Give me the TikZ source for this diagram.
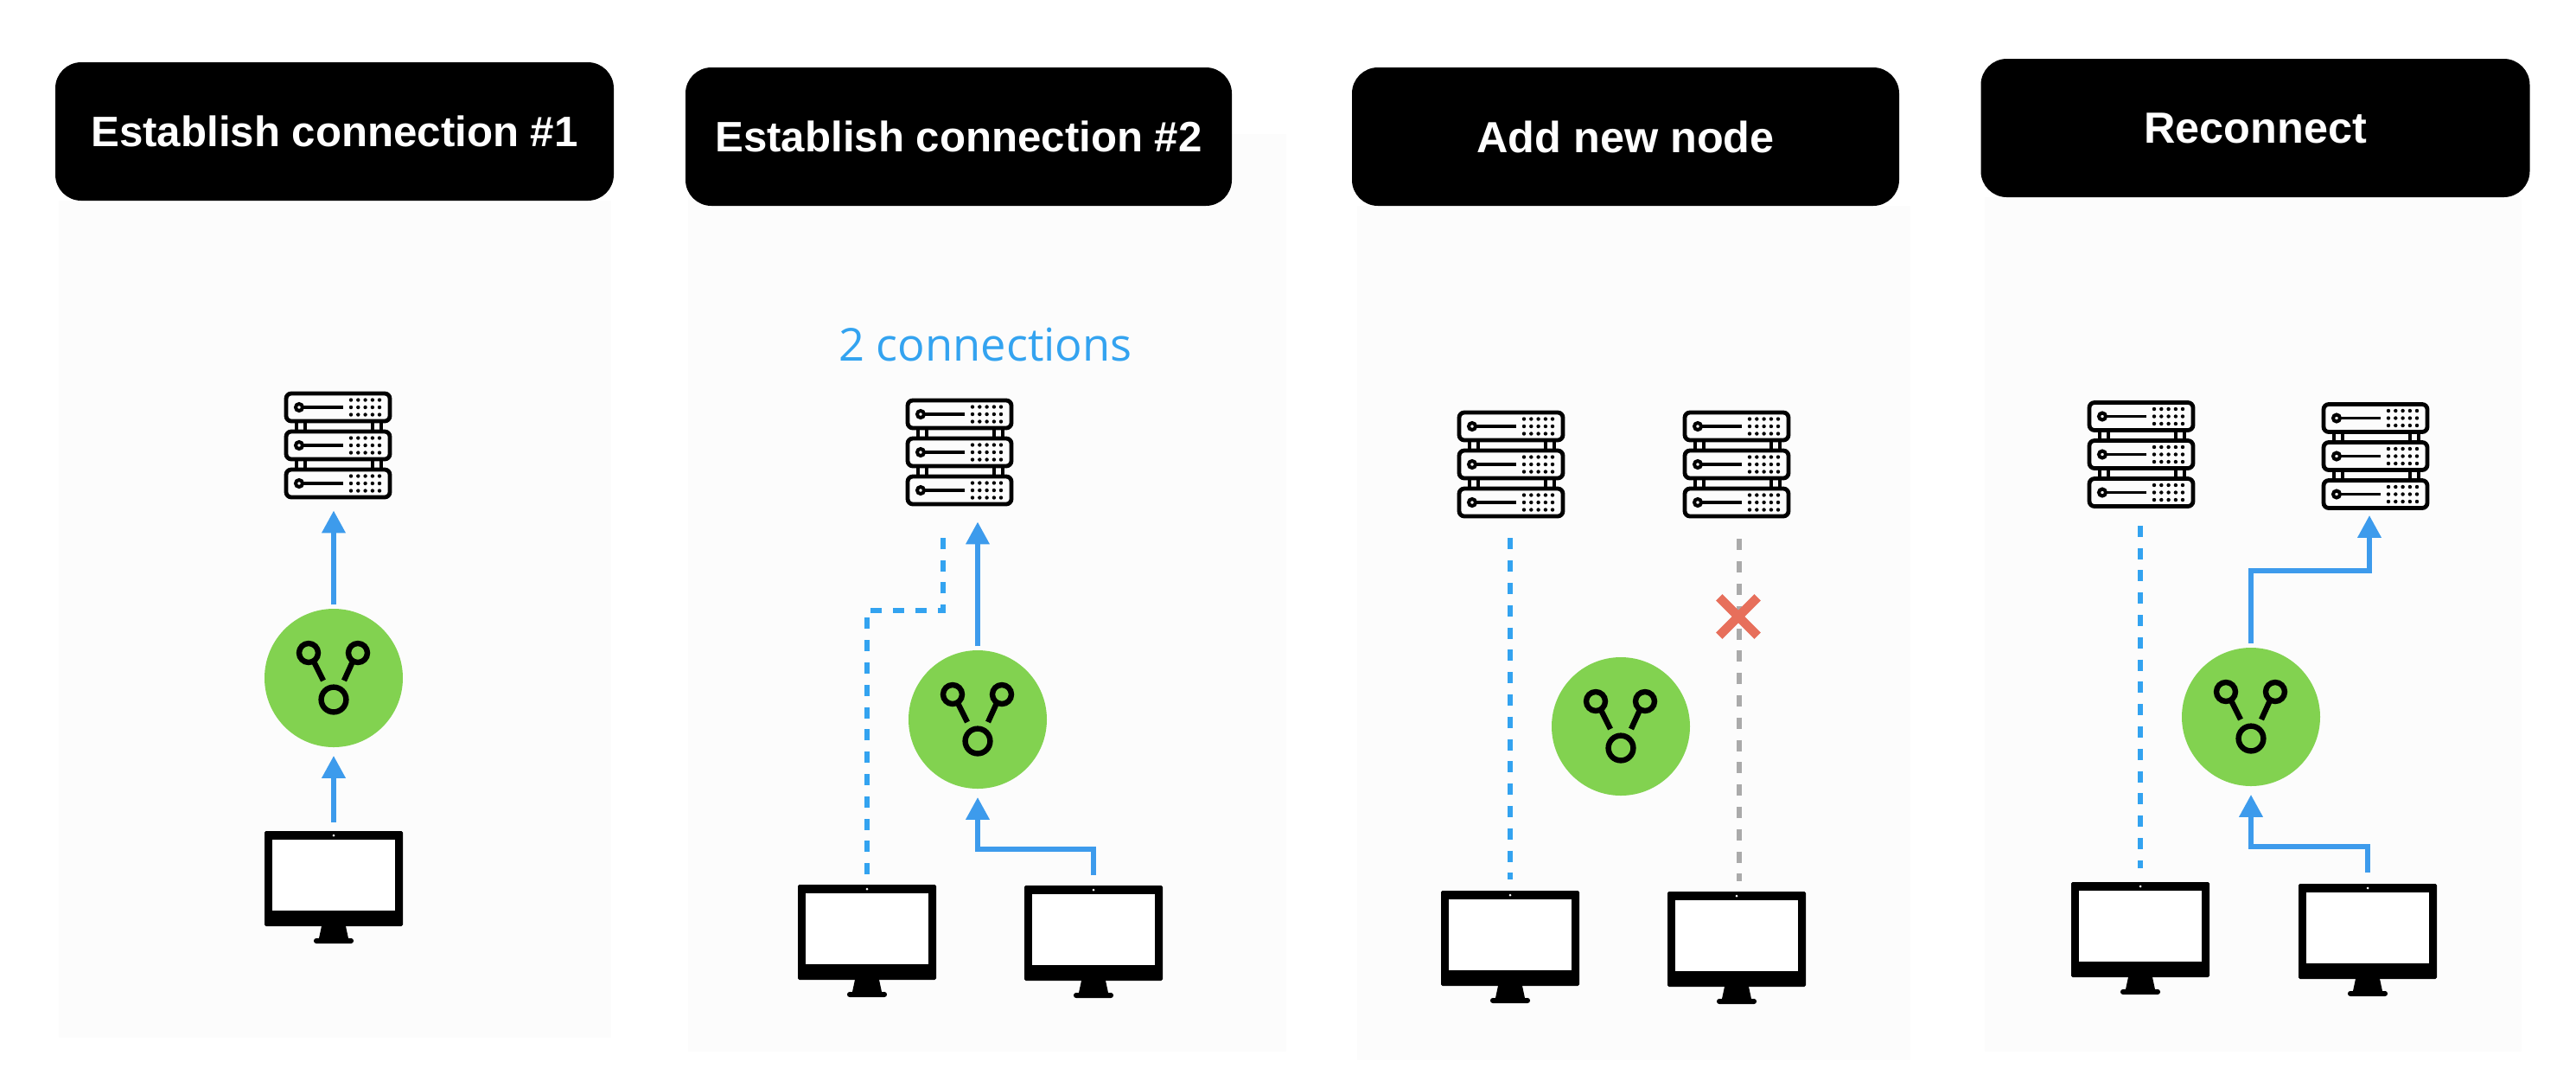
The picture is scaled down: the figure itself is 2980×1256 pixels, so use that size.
\documentclass[tikz,border=0pt]{standalone}
\usepackage{fontspec}
\usepackage{xcolor}
\setmainfont{Liberation Sans}
\newfontfamily\notefont{Open Sans}
\usetikzlibrary{arrows.meta,shapes.misc}
\definecolor{flowblue}{RGB}{61,155,236}
\definecolor{linkblue}{RGB}{51,163,240}
\definecolor{hubgreen}{RGB}{130,210,80}
\definecolor{cutgray}{RGB}{170,170,170}
\definecolor{cutred}{RGB}{231,111,91}
\definecolor{panelgray}{RGB}{252,252,252}

\tikzset{
    headbox/.style={rectangle, fill=black, text=white, font=\fontsize{12.6}{15}\selectfont\bfseries, minimum height=40pt, rounded corners=7.5pt, inner sep=0pt},
    longhead/.style={font=\fontsize{12.3}{15}\selectfont\bfseries},
    hubnode/.style={circle, fill=hubgreen, minimum size=40pt, inner sep=0pt},
    iconnode/.style={rectangle, minimum width=40pt, minimum height=32.5pt, inner sep=0pt},
    racknode/.style={rectangle, minimum width=31.25pt, minimum height=31.25pt, inner sep=0pt},
    flowline/.style={draw=flowblue, line width=1.6pt, -{Triangle[width=6.5pt,length=6.5pt]}},
    linkline/.style={draw=linkblue, line width=1.6pt, dash pattern=on 3.25pt off 3.2pt},
    cutline/.style={draw=cutgray, line width=1.6pt, dash pattern=on 3.25pt off 3.2pt},
    cutmark/.style={cross out, draw=cutred, line width=2.6pt, minimum size=8.5pt, inner sep=0pt}
}

\newcommand{\rackicon}[3]{
    \node[racknode] (#1) at (#2,#3) {};
    \begin{scope}[shift={(#2,#3)}, line width=1.2pt]
        \foreach \rowy in {-44,0,44} {
            \draw[rounded corners=1.5pt] (-60,\rowy-16) rectangle (60,\rowy+16);
            \draw[line width=1pt] (-45,\rowy) circle (4);
            \draw[line width=.85pt] (-41,\rowy) -- (6,\rowy);
            \foreach \dotx in {15,23.3,31.6,39.9,48} {
                \foreach \doty in {-8.5,0,8.5} {
                    \fill (\dotx,\rowy+\doty) circle (2.2);
                }
            }
        }
        \foreach \rowy in {-28,16} {
            \foreach \barx in {-48,-38,40,50} {
                \draw[line width=.8pt] (\barx,\rowy) -- (\barx,\rowy+12);
            }
        }
    \end{scope}
}

\newcommand{\screenicon}[3]{
    \node[iconnode] (#1) at (#2,#3) {};
    \begin{scope}[shift={(#2,#3)}]
        \fill[rounded corners=.4pt] (-80,-65) rectangle (80,45);
        \fill[white] (-71,-55) rectangle (71,27);
        \fill[white] (0,-60) circle (1.5);
        \fill (-14,45) -- (14,45) -- (17,59) -- (-17,59) -- cycle;
        \fill[rounded corners=.7pt] (-23,59) rectangle (23,65);
    \end{scope}
}

\newcommand{\hubicon}[3]{
    \node[hubnode] (#1) at (#2,#3) {};
    \begin{scope}[shift={(#2,#3)}, line width=1.6pt]
        \draw (-29,-29) circle (11);
        \draw (28,-29) circle (11);
        \draw (0,25) circle (14.4);
        \draw (-23,-19) -- (-12,3);
        \draw (22,-19) -- (12,3);
    \end{scope}
}

\begin{document}
\begin{tikzpicture}[x=.25pt, y=-.25pt]
    \useasboundingbox (0,0) rectangle (2980,1256);
    \fill[white] (0,0) rectangle (2980,1256);

    \fill[panelgray] (68,232) rectangle (707,1200);
    \fill[panelgray] (796,155) rectangle (1488,1216);
    \fill[panelgray] (1570,238) rectangle (2210,1226);
    \fill[panelgray] (2296,228) rectangle (2917,1216);

    \node[headbox, longhead, minimum width=161.5pt] (head1) at (387,152) {Establish connection \#1};
    \node[headbox, longhead, minimum width=158pt] (head2) at (1109,158) {Establish connection \#2};
    \node[headbox, minimum width=158.25pt] (head3) at (1880.5,158) {Add new node};
    \node[headbox, minimum width=158.75pt] (head4) at (2609,148) {Reconnect};

    \node[text=linkblue, font=\notefont\fontsize{13.1}{15}\selectfont, inner sep=0pt] (count2) at (1140,399) {2 connections};

    \rackicon{srv1}{391}{515}
    \hubicon{hub1}{386}{784}
    \screenicon{mon1}{386}{1026}
    \draw[flowline, shorten <=2.25pt, shorten >=2.25pt] (mon1.north) -- (hub1.south);
    \draw[flowline, shorten <=1pt, shorten >=3pt] (hub1.north) -- (hub1.north |- srv1.south);

    \rackicon{srv2}{1110}{523}
    \hubicon{hub2}{1131}{832}
    \screenicon{mon2a}{1003}{1088}
    \screenicon{mon2b}{1265}{1089}
    \coordinate (bend2) at (1091,706);
    \draw[flowline, shorten <=1pt, shorten >=4.25pt] (hub2.north) -- (hub2.north |- srv2.south);
    \draw[flowline, shorten <=2.75pt, shorten >=2.25pt] (mon2b.north) -- ++(0,-41) -| (hub2.south);
    \draw[linkline, shorten <=2.75pt, shorten >=7.25pt] (mon2a.north) |- (bend2) -- (bend2 |- srv2.south);

    \rackicon{srv3a}{1748}{537}
    \rackicon{srv3b}{2009}{537}
    \hubicon{hub3}{1875}{840}
    \screenicon{mon3a}{1747}{1095}
    \screenicon{mon3b}{2009}{1096}
    \draw[linkline, shorten <=5.5pt, shorten >=3pt] (srv3a.south -| mon3a.north) -- (mon3a.north);
    \draw[cutline, shorten <=5.75pt, shorten >=2.75pt] ([xshift=.75pt]srv3b.south) -- ([xshift=.75pt]mon3b.north);
    \node[cutmark] (cut3) at (2011,713) {};

    \rackicon{srv4a}{2477}{525.5}
    \rackicon{srv4b}{2748}{527.5}
    \hubicon{hub4}{2604}{829}
    \screenicon{mon4a}{2476}{1085}
    \screenicon{mon4b}{2739}{1087}
    \draw[linkline, shorten <=4.75pt, shorten >=3.75pt] (srv4a.south -| mon4a.north) -- (mon4a.north);
    \draw[flowline, shorten <=1pt, shorten >=1.25pt] (hub4.north) -- ++(0,-88) -| ([xshift=-1.75pt]srv4b.south);
    \draw[flowline, shorten <=3pt, shorten >=2.25pt] (mon4b.north) -- ++(0,-42) -| (hub4.south);
\end{tikzpicture}
\end{document}
